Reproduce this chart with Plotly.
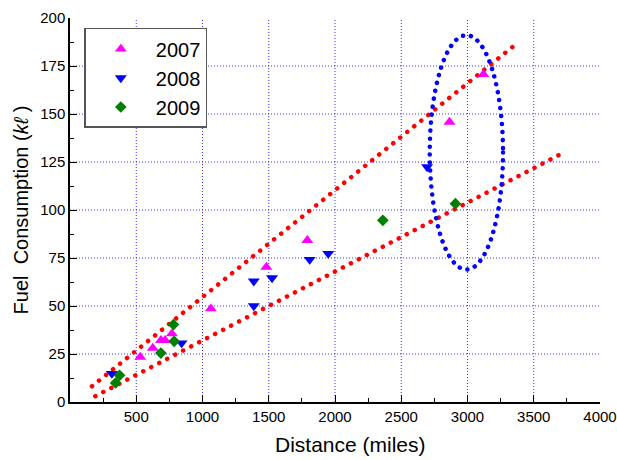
import plotly.graph_objects as go

# ---- data ----
x2007 = [530, 625, 686, 718, 769, 1063, 1482, 1791, 2864, 3120]
y2007 = [23.4, 28.1, 32.1, 32.1, 35.6, 48.6, 70.3, 84.2, 145.8, 170.7]

x2008 = [316, 842, 1387, 1387, 1525, 1809, 1949, 2695]
y2008 = [14.8, 30.7, 50.0, 62.9, 64.6, 74.2, 77.3, 122.4]

x2009 = [344, 374, 686, 781, 786, 2361, 2909]
y2009 = [9.9, 13.9, 25.5, 40.3, 31.6, 94.6, 103.3]

# trend lines (end points)
fit_upper_x = [166, 3356]
fit_upper_y = [8.2, 185.8]
fit_lower_x = [191, 3712]
fit_lower_y = [3.0, 129.4]

# highlighted region (ellipse bounds)
ellipse_x = [2715, 3268]
ellipse_y = [69, 191]

x_ticks = [500, 1000, 1500, 2000, 2500, 3000, 3500, 4000]
y_ticks = [0, 25, 50, 75, 100, 125, 150, 175, 200]
x_grid = [500, 1000, 1500, 2000, 2500, 3000, 3500]
y_grid = [25, 50, 75, 100, 125, 150, 175]

x_title = "Distance (miles)"
y_title = "Fuel\u00a0 Consumption (<i>k\u2113</i> )"

FONT = "Liberation Sans, Arial, sans-serif"

fig = go.Figure()

# dotted grid (interior lines only)
for gx in x_grid:
    fig.add_shape(type="line", xref="x", yref="paper", x0=gx, x1=gx, y0=0, y1=1,
                  layer="below", line=dict(color="rgba(0,0,255,0.8)", width=1, dash="1px,2px"))
for gy in y_grid:
    fig.add_shape(type="line", xref="paper", yref="y", x0=0, x1=1, y0=gy, y1=gy,
                  layer="below", line=dict(color="rgba(0,0,255,0.8)", width=1, dash="1px,2px"))

fig.add_trace(go.Scatter(x=fit_upper_x, y=fit_upper_y, mode="lines",
                         line=dict(color="#ff0000", width=4.5, dash="4px,4.5px"),
                         showlegend=False, hoverinfo="skip"))
fig.add_trace(go.Scatter(x=fit_lower_x, y=fit_lower_y, mode="lines",
                         line=dict(color="#ff0000", width=4.5, dash="4px,4.5px"),
                         showlegend=False, hoverinfo="skip"))

fig.add_trace(go.Scatter(x=x2007, y=y2007, mode="markers", name="2007",
                         marker=dict(symbol="triangle-up", size=10.5, color="#ff00ff")))
fig.add_trace(go.Scatter(x=x2008, y=y2008, mode="markers", name="2008",
                         marker=dict(symbol="triangle-down", size=10.5, color="#0000ff")))
fig.add_trace(go.Scatter(x=x2009, y=y2009, mode="markers", name="2009",
                         marker=dict(symbol="diamond", size=9, color="#008000")))

fig.add_shape(type="circle", xref="x", yref="y",
              x0=ellipse_x[0], x1=ellipse_x[1], y0=ellipse_y[0], y1=ellipse_y[1],
              line=dict(color="#0000ff", width=4.5, dash="4px,4px"))

fig.update_xaxes(range=[0, 4000], tickvals=x_ticks, ticks="inside", ticklen=7,
                 tickwidth=1.3, tickcolor="black", showline=True, linecolor="black",
                 linewidth=1.5, zeroline=False, showgrid=False, automargin=False,
                 tickfont=dict(size=15, color="black"),
                 minor=dict(ticks="inside", dtick=250, tick0=0, ticklen=4,
                            tickcolor="black", showgrid=False))
fig.update_yaxes(range=[0, 200], tickvals=y_ticks, ticks="inside", ticklen=7,
                 tickwidth=1.3, tickcolor="black", showline=True, linecolor="black",
                 linewidth=1.5, zeroline=False, showgrid=False, automargin=False,
                 tickfont=dict(size=15, color="black"),
                 minor=dict(ticks="inside", dtick=12.5, tick0=0, ticklen=4,
                            tickcolor="black", showgrid=False),
                 title=dict(text=y_title, font=dict(size=20, color="black"), standoff=6))

# x-axis title (placed slightly right of centre, as in the reference)
fig.add_annotation(text=x_title, xref="paper", yref="paper", x=0.53, y=-0.111,
                   xanchor="center", yanchor="middle", showarrow=False,
                   font=dict(size=21, color="black", family=FONT))

fig.update_layout(
    width=617, height=460,
    margin=dict(l=70, r=17, t=18, b=58),
    paper_bgcolor="white", plot_bgcolor="white",
    font=dict(family=FONT, color="black"),
    legend=dict(x=0.027, y=0.974, xanchor="left", yanchor="top",
                bordercolor="#555555", borderwidth=1.5, bgcolor="white",
                font=dict(size=20, color="black"), itemwidth=60,
                tracegroupgap=0),
)

post = """
document.body.style.margin = '0';
document.body.style.padding = '0';
var gd = document.getElementById('{plot_id}');
function fixDots(){
  var paths = gd.querySelectorAll('.scatterlayer path.js-line, .shapelayer path');
  paths.forEach(function(p){
    var w = parseFloat(p.style.strokeWidth || p.getAttribute('stroke-width') || '0');
    if (!(w > 3)) { return; }
    var s = p.style.stroke || p.getAttribute('stroke') || '';
    if (s.indexOf('255, 0, 0') >= 0 || s.indexOf('#ff0000') >= 0) {
      p.style.strokeLinecap = 'round';
      p.style.strokeDasharray = '0.1px,8.9px';
    } else if (s.indexOf('0, 0, 255') >= 0 || s.indexOf('#0000ff') >= 0) {
      p.style.strokeLinecap = 'round';
      p.style.strokeDasharray = '0.1px,7.9px';
    }
  });
}
fixDots();
if (gd.on) { gd.on('plotly_afterplot', fixDots); }
setTimeout(fixDots, 50);
"""

fig.write_html("out.html", post_script=post, config={"displayModeBar": False})
